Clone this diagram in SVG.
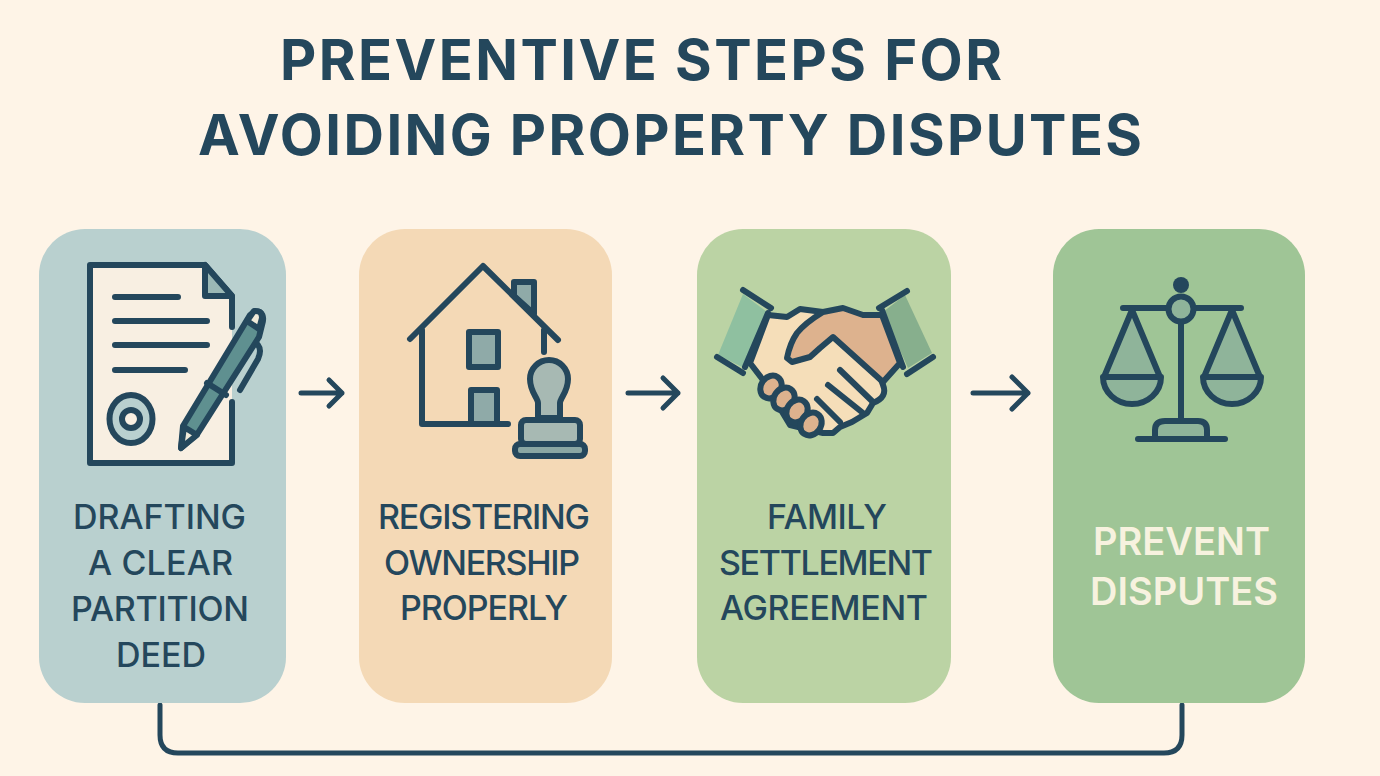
<svg xmlns="http://www.w3.org/2000/svg" width="1380" height="776" viewBox="0 0 1380 776">
<style>
text{font-family:"Inter","Liberation Sans",sans-serif;fill:#24475c;text-anchor:middle}
.t{font-size:56px;font-weight:700}
.l{font-size:34px;font-weight:500}
.w{font-size:38px;font-weight:600;fill:#f7f2df}
.s{fill:none;stroke:#24475c;stroke-width:6;stroke-linecap:round;stroke-linejoin:round}
.d{stroke:#24475c;stroke-width:6;stroke-linecap:round;stroke-linejoin:round}
.c{fill:none;stroke:#24475c;stroke-width:5;stroke-linecap:round;stroke-linejoin:round}
</style>
<rect width="1380" height="776" fill="#fef4e7"/>
<g id="title">
<text class="t" x="641" y="80" textLength="722" lengthAdjust="spacing">PREVENTIVE STEPS FOR</text>
<text class="t" x="670" y="155" textLength="944" lengthAdjust="spacing">AVOIDING PROPERTY DISPUTES</text>
</g>
<g id="connectors">
<path class="c" d="M301 393H342M329 380L342 393L329 406"/>
<path class="c" d="M628 393H678M663 378L678 393L663 408"/>
<path class="c" d="M973 393H1028M1012 377L1028 393L1012 409"/>
<path class="c" d="M160 705V735Q160 753 178 753H1164Q1182 753 1182 735V705"/>
</g>
<g id="step1">
<rect x="39" y="229" width="247" height="474" rx="46" fill="#b9d0cf"/>
<path d="M90 265H205L232 296V463H90Z" fill="#f8efe2"/>
<path class="s" d="M232 327V296L205 265H90V463H232V402"/>
<path class="d" d="M205 265V296H232Z" fill="#9bb8b5"/>
<path class="s" d="M115 297H178M115 321H207M115 345H207M115 370H185"/>
<ellipse class="d" cx="131" cy="419" rx="21.500" ry="24" fill="#b9d0cf"/>
<circle class="d" cx="131" cy="419" r="9" fill="#f8efe2"/>
<path class="d" d="M181 448L183 426L250 315Q255 310 260 312Q265 316 262 325L259 337L198 433Z" fill="#5f9090"/>
<path class="d" d="M181 448L184 427L197 435Z" fill="#f0ead9"/>
<path class="d" d="M247 321L254 311Q262 310 262 318L259 329Z" fill="#f0ead9"/>
<path class="s" d="M207 383L226 395"/>
<path class="s" d="M240 390L258 359Q262 350 258 345"/>
<text class="l" x="159.500" y="529" textLength="173" lengthAdjust="spacing">DRAFTING</text>
<text class="l" x="160.500" y="575" textLength="145" lengthAdjust="spacing">A CLEAR</text>
<text class="l" x="160" y="621" textLength="178" lengthAdjust="spacing">PARTITION</text>
<text class="l" x="161" y="667" textLength="90" lengthAdjust="spacing">DEED</text>
</g>
<g id="step2">
<rect x="359" y="229" width="253" height="474" rx="46" fill="#f4d9b6"/>
<path class="d" d="M514 296V282H534V314Z" fill="#8faaa8"/>
<path class="s" d="M410 339L483 266L558 340M422 330V424H508M544 330V352"/>
<rect class="d" x="469" y="332" width="29" height="35" fill="#8faaa8"/>
<path class="d" d="M471 424V390H497V424Z" fill="#8faaa8"/>
<path class="d" d="M538 418V403C538 398 530 392 530 379A19 19 0 1 1 568 379C568 392 560 398 560 403V418Z" fill="#a7b9b3"/>
<rect class="d" x="521" y="420" width="59" height="24" rx="5" fill="#a7b9b3"/>
<rect class="d" x="515" y="444" width="70" height="12" rx="5" fill="#8aa7a3"/>
<text class="l" x="484" y="529" textLength="212" lengthAdjust="spacing">REGISTERING</text>
<text class="l" x="482" y="575" textLength="196" lengthAdjust="spacing">OWNERSHIP</text>
<text class="l" x="484" y="620" textLength="168" lengthAdjust="spacing">PROPERLY</text>
</g>
<g id="step3">
<rect x="697" y="229" width="254" height="474" rx="46" fill="#bbd3a4"/>
<path d="M743 294L767 312L742 367L718 355Z" fill="#8fc0a0"/>
<path d="M905 295L883 312L908 368L932 353Z" fill="#87af8d"/>
<path class="d" d="M768 315L787 317L800 309L823 312L863 330L883 385Q888 397 873 403L867 413L852 422L840 427L833 433L823 433L790 425L763 380L750 363Z" fill="#f5deb9"/>
<path class="d" d="M823 312L843 308L863 315L882 315L900 363L883 382L833 337L820 348L810 357L792 362L787 358Q790 343 797 333Q805 323 823 312Z" fill="#ddb28e"/>
<path class="s" d="M743 290L771 308M717 357L743 373M907 291L879 308M933 357L907 374M768 313L745 367M882 310L903 367"/>
<path class="s" d="M840 370L873 402M828 385L863 413M817 399L840 422"/>
<ellipse class="d" cx="771" cy="387" rx="10" ry="12" transform="rotate(35 771 387)" fill="#ddb28e"/>
<ellipse class="d" cx="784" cy="399" rx="10" ry="12" transform="rotate(35 784 399)" fill="#ddb28e"/>
<ellipse class="d" cx="797" cy="411" rx="10" ry="12" transform="rotate(35 797 411)" fill="#ddb28e"/>
<ellipse class="d" cx="811" cy="424" rx="10" ry="12" transform="rotate(35 811 424)" fill="#ddb28e"/>
<text class="l" x="827" y="529" textLength="120" lengthAdjust="spacing">FAMILY</text>
<text class="l" x="826" y="575" textLength="214" lengthAdjust="spacing">SETTLEMENT</text>
<text class="l" x="824" y="620" textLength="208" lengthAdjust="spacing">AGREEMENT</text>
</g>
<g id="step4">
<rect x="1053" y="229" width="252" height="474" rx="46" fill="#9fc596"/>
<path class="s" d="M1123 308H1241M1181 324V420"/>
<circle cx="1181" cy="285" r="8" fill="#24475c"/>
<circle class="d" cx="1181" cy="309" r="12.500" fill="#8fb49a"/>
<path class="d" d="M1132 310L1104 377H1160Z" fill="#8fb49a"/>
<path class="d" d="M1232 310L1204 377H1260Z" fill="#8fb49a"/>
<path class="d" d="M1103 377A29 27 0 0 0 1161 377Z" fill="#8fb49a"/>
<path class="d" d="M1203 377A29 27 0 0 0 1261 377Z" fill="#8fb49a"/>
<path class="d" d="M1155 439V430Q1155 421 1165 421H1198Q1207 421 1207 430V439" fill="#8fb49a"/>
<path class="s" d="M1138 439H1225"/>
<text class="w" x="1181.500" y="555" textLength="177" lengthAdjust="spacing">PREVENT</text>
<text class="w" x="1184" y="605" textLength="188" lengthAdjust="spacing">DISPUTES</text>
</g>
</svg>
